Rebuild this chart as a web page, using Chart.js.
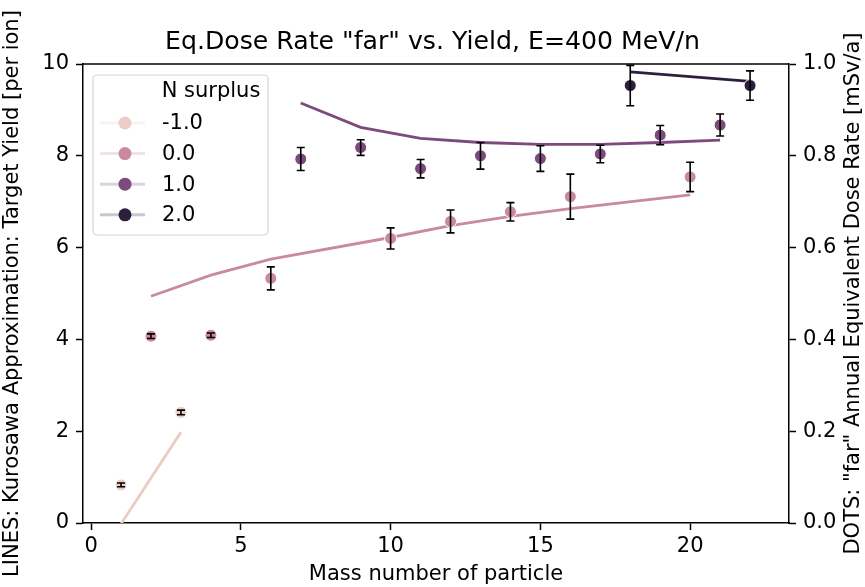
<!DOCTYPE html>
<html>
<head>
<title>Eq.Dose Rate vs. Yield</title>
<script src="https://cdn.jsdelivr.net/npm/chart.js"></script>
<style>
  body { margin: 0; background: #fff; }
</style>
</head>
<body>
<canvas id="myChart" width="865" height="587"></canvas>
<script>
// N surplus groups
const surplus = ['-1.0', '0.0', '1.0', '2.0'];
const colors = ['#ebcdc5', '#c98a9f', '#7d4a7e', '#2d1e3e'];

// mass number, Kurosawa yield (lines), "far" dose rate and its error (dots)
const massM1 = [1, 3];
const yieldM1 = [-0.02, 1.98];
const doseM1 = [0.083, 0.241];
const errM1 = [0.004, 0.005];

const mass0 = [2, 4, 6, 10, 12, 14, 16, 20];
const yield0 = [4.94, 5.40, 5.75, 6.22, 6.48, 6.68, 6.85, 7.15];
const dose0 = [0.407, 0.409, 0.533, 0.620, 0.657, 0.678, 0.711, 0.754];
const err0 = [0.005, 0.005, 0.025, 0.023, 0.025, 0.020, 0.049, 0.032];

const mass1 = [7, 9, 11, 13, 15, 17, 19, 21];
const yield1 = [9.15, 8.62, 8.38, 8.29, 8.25, 8.25, 8.29, 8.34];
const dose1 = [0.793, 0.818, 0.772, 0.800, 0.794, 0.804, 0.845, 0.867];
const err1 = [0.025, 0.017, 0.020, 0.029, 0.028, 0.019, 0.021, 0.024];

const mass2 = [18, 22];
const yield2 = [9.83, 9.62];
const dose2 = [0.953, 0.953];
const err2 = [0.044, 0.032];

const xTicks = [0, 5, 10, 15, 20];
const yLeftTicks = [0, 2, 4, 6, 8, 10];
const yRightTicks = [0, 0.2, 0.4, 0.6, 0.8, 1.0];

const groups = [
    { mass: massM1, yld: yieldM1, dose: doseM1, err: errM1 },
    { mass: mass0, yld: yield0, dose: dose0, err: err0 },
    { mass: mass1, yld: yield1, dose: dose1, err: err1 },
    { mass: mass2, yld: yield2, dose: dose2, err: err2 }
];

const FONT = 'DejaVu Sans';
const SIZE = 21;
Chart.defaults.font.family = FONT;
Chart.defaults.font.size = SIZE;
Chart.defaults.color = '#000';

const datasets = [];
groups.forEach((g, k) => {
    datasets.push({
        type: 'line',
        label: surplus[k],
        data: g.mass.map((m, i) => ({ x: m, y: g.yld[i] })),
        yAxisID: 'y',
        borderColor: colors[k],
        borderWidth: 2.8,
        pointRadius: 0,
        tension: 0,
        order: 2
    });
});
groups.forEach((g, k) => {
    datasets.push({
        type: 'scatter',
        label: surplus[k] + ' dots',
        data: g.mass.map((m, i) => ({ x: m, y: g.dose[i] })),
        yAxisID: 'yR',
        backgroundColor: colors[k],
        borderColor: '#fff',
        borderWidth: 1,
        pointRadius: 6,
        order: 1
    });
});

const setTicks = values => scale => {
    scale.ticks = values.map(v => ({ value: v }));
};

const extras = {
    id: 'extras',
    afterDatasetsDraw(chart) {
        const { ctx, scales: { x, yR } } = chart;
        ctx.save();
        ctx.strokeStyle = '#000';
        ctx.lineWidth = 1.6;
        groups.forEach(g => g.mass.forEach((m, i) => {
            const px = x.getPixelForValue(m);
            const top = yR.getPixelForValue(g.dose[i] + g.err[i]);
            const bot = yR.getPixelForValue(g.dose[i] - g.err[i]);
            ctx.beginPath();
            ctx.moveTo(px, top); ctx.lineTo(px, bot);
            ctx.moveTo(px - 4, top); ctx.lineTo(px + 4, top);
            ctx.moveTo(px - 4, bot); ctx.lineTo(px + 4, bot);
            ctx.stroke();
        }));
        ctx.restore();
    },
    afterDraw(chart) {
        const { ctx, chartArea: a } = chart;
        ctx.save();
        // top spine
        ctx.strokeStyle = '#000';
        ctx.lineWidth = 1.5;
        ctx.beginPath();
        ctx.moveTo(a.left, a.top); ctx.lineTo(a.right, a.top);
        ctx.stroke();

        // y axis titles, both read bottom to top
        ctx.fillStyle = '#000';
        ctx.font = SIZE + 'px "' + FONT + '"';
        ctx.textAlign = 'center';
        ctx.textBaseline = 'middle';
        const midY = (a.top + a.bottom) / 2;
        ctx.save();
        ctx.translate(12.5, midY);
        ctx.rotate(-Math.PI / 2);
        ctx.fillText('LINES: Kurosawa Approximation: Target Yield [per ion]', 0, 0);
        ctx.restore();
        ctx.save();
        ctx.translate(854, midY);
        ctx.rotate(-Math.PI / 2);
        ctx.fillText('DOTS: "far" Annual Equivalent Dose Rate [mSv/a]', 0, 0);
        ctx.restore();

        // legend
        ctx.beginPath();
        ctx.roundRect(93, 75, 175, 160, 4);
        ctx.fillStyle = 'rgba(255,255,255,0.8)';
        ctx.fill();
        ctx.strokeStyle = '#d6d6d6';
        ctx.lineWidth = 1.2;
        ctx.stroke();
        ctx.fillStyle = '#000';
        ctx.fillText('N surplus', 211, 92);
        ctx.textAlign = 'left';
        surplus.forEach((s, k) => {
            const y = 123 + k * 30.6;
            ctx.save();
            ctx.globalAlpha = 0.25;
            ctx.strokeStyle = colors[k];
            ctx.lineWidth = 3;
            ctx.beginPath();
            ctx.moveTo(100, y); ctx.lineTo(145, y);
            ctx.stroke();
            ctx.restore();
            ctx.beginPath();
            ctx.arc(125, y, 6.5, 0, Math.PI * 2);
            ctx.fillStyle = colors[k];
            ctx.fill();
            ctx.fillStyle = '#000';
            ctx.fillText(s, 162, y + 1);
        });
        ctx.restore();
    }
};

const axisStyle = {
    grid: { drawOnChartArea: false, drawTicks: true, tickLength: 7, tickWidth: 1.5, tickColor: '#000' },
    border: { display: true, color: '#000', width: 1.5 }
};

new Chart(document.getElementById('myChart').getContext('2d'), {
    data: { datasets },
    plugins: [extras],
    options: {
        responsive: false,
        animation: false,
        devicePixelRatio: 1,
        layout: { padding: 0 },
        plugins: {
            legend: { display: false },
            tooltip: { enabled: false },
            title: {
                display: true,
                text: 'Eq.Dose Rate "far" vs. Yield, E=400 MeV/n',
                font: { size: 25.2, weight: 'normal' },
                color: '#000',
                padding: { top: 27, bottom: 6.76 }
            }
        },
        scales: {
            x: {
                type: 'linear',
                position: 'bottom',
                min: -0.27,
                max: 23.3,
                afterBuildTicks: setTicks(xTicks),
                afterFit: s => { s.height = 64; },
                ticks: { padding: 4, callback: v => String(v) },
                title: { display: true, text: 'Mass number of particle', padding: { top: 0, bottom: 0 } },
                ...axisStyle
            },
            y: {
                type: 'linear',
                position: 'left',
                min: 0,
                max: 10,
                afterBuildTicks: setTicks(yLeftTicks),
                afterFit: s => { s.width = 83; },
                ticks: { padding: 7, callback: v => String(v) },
                ...axisStyle
            },
            yR: {
                type: 'linear',
                position: 'right',
                min: 0,
                max: 1,
                afterBuildTicks: setTicks(yRightTicks),
                afterFit: s => { s.width = 76; },
                ticks: { padding: 7, callback: v => Number(v).toFixed(1) },
                ...axisStyle
            }
        }
    }
});
</script>
</body>
</html>
